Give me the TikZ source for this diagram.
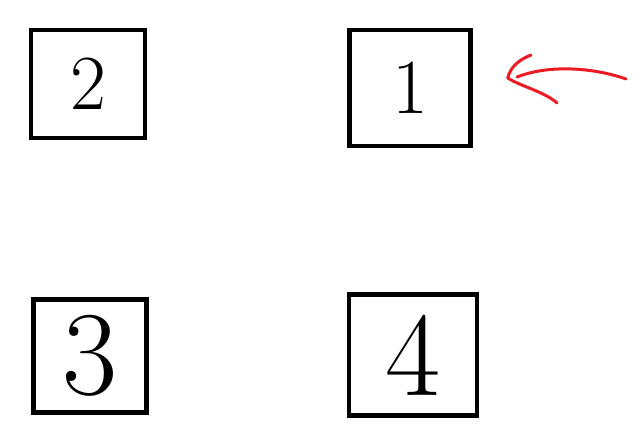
\documentclass[tikz,border=0pt]{standalone}
\usepackage{fontspec}
\usepackage{tikz}
\usetikzlibrary{positioning}
\definecolor{paintred}{RGB}{237,28,36}

\begin{document}
\begin{tikzpicture}[x=1pt, y=-1pt,
	box/.style={draw, line width=4.5pt, inner sep=0pt},
	small/.style={font=\fontsize{78}{78}\selectfont},
	big/.style={font=\fontsize{120}{120}\selectfont},
	pointer/.style={draw=paintred, line width=3pt, line cap=round, line join=round}]
	\useasboundingbox (0,0) rectangle (642,437);
	\node[box, small, minimum width=114pt, minimum height=108pt] (b2) at (88,84) {2};
	\node[box, small, minimum width=121pt, minimum height=116pt, right=200pt of b2, yshift=-4pt] (b1) {1};
	\node[box, big, minimum width=113pt, minimum height=113pt, below=157pt of b2, xshift=2pt] (b3) {3};
	\node[box, big, minimum width=128pt, minimum height=121pt, right=198pt of b3, yshift=1pt] (b4) {4};
	% red arrow on box 1
	\coordinate[right=35pt of b1.east, yshift=10pt] (tip);
	\coordinate (tail) at (626,79);
	\coordinate (shaftend) at (517,77);
	\coordinate (barbup) at (531,55);
	\coordinate (barbdown) at (557,103);
	\draw[pointer] (tail) .. controls (595,68) and (550,64) .. (shaftend);
	\draw[pointer] (tip) .. controls (510,68) and (518,60) .. (barbup);
	\draw[pointer] (tip) .. controls (520,86) and (545,92) .. (barbdown);
\end{tikzpicture}
\end{document}
